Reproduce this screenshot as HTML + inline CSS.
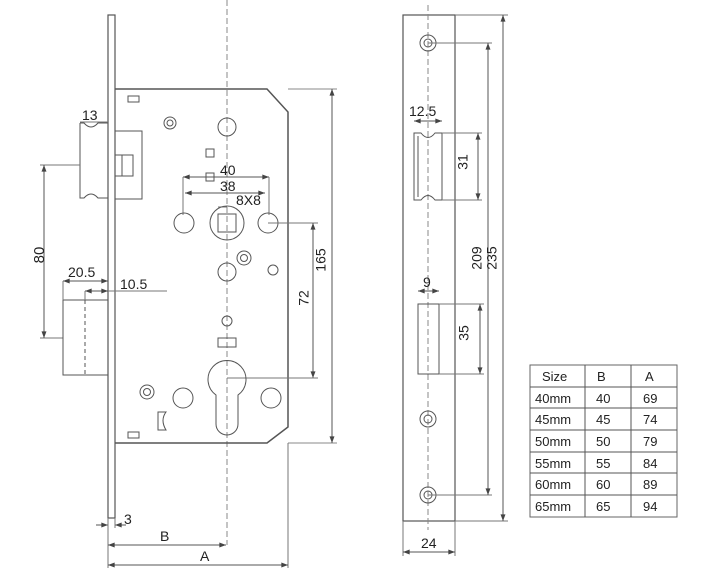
<!DOCTYPE html>
<html><head><meta charset="utf-8"><style>
html,body{margin:0;padding:0;background:#fff;}
svg{display:block;}
text{font-family:"Liberation Sans",Arial,sans-serif;fill:#222;}
</style></head><body>
<svg width="717" height="581" viewBox="0 0 717 581" xmlns="http://www.w3.org/2000/svg">
<defs>
<marker id="ar" viewBox="0 0 8 6" refX="8" refY="3" markerWidth="7" markerHeight="5" orient="auto-start-reverse"><path d="M0,0 L8,3 L0,6 z" fill="#444"/></marker>
</defs>
<g stroke="#555" stroke-width="1" fill="none">
<line x1="227" y1="0" x2="227" y2="545" stroke-dasharray="6,3" stroke="#888"/>
<rect x="108" y="15" width="7" height="503" stroke-width="1.2"/>
<path d="M115,89 L267,89 L288,112 L288,427 L267,443 L115,443" stroke-width="1.5"/>
<line x1="288" y1="89" x2="337" y2="89" stroke="#888"/>
<line x1="288" y1="443" x2="337" y2="443" stroke="#888"/>
<line x1="332" y1="89" x2="332" y2="443" marker-start="url(#ar)" marker-end="url(#ar)"/>
<rect x="128" y="96" width="11" height="6"/>
<rect x="128" y="432" width="11" height="6"/>
<path d="M80,123 L84,123 Q91,131 98,123 L108,123 M80,123 L80,198 L84,198 Q91,190 98,198 L108,198"/>
<rect x="115" y="131" width="27" height="68"/>
<rect x="115" y="155" width="18" height="21"/>
<line x1="122" y1="155" x2="122" y2="176"/>
<line x1="80" y1="122" x2="108" y2="122" stroke="#777"/>
<text x="82" y="120" font-size="14" stroke="none">13</text>
<line x1="40" y1="165" x2="80" y2="165" stroke="#777"/>
<line x1="40" y1="338" x2="63" y2="338" stroke="#777"/>
<line x1="44" y1="165" x2="44" y2="338" marker-start="url(#ar)" marker-end="url(#ar)"/>
<rect x="63" y="300" width="45" height="75"/>
<line x1="85" y1="300" x2="85" y2="375" stroke-dasharray="4,3"/>
<line x1="63" y1="281" x2="108" y2="281" marker-start="url(#ar)" marker-end="url(#ar)"/>
<line x1="63" y1="281" x2="63" y2="300" stroke="#777"/>
<line x1="85" y1="291" x2="108" y2="291" marker-start="url(#ar)" marker-end="url(#ar)"/>
<line x1="108" y1="291" x2="167" y2="291" stroke="#777"/>
<line x1="85" y1="291" x2="85" y2="300" stroke="#777"/>
<circle cx="227" cy="127" r="9"/>
<circle cx="170" cy="123" r="6"/><circle cx="170" cy="123" r="3"/>
<rect x="206" y="149" width="8" height="8"/>
<rect x="206" y="173" width="8" height="8"/>
<line x1="183" y1="177" x2="269" y2="177" marker-start="url(#ar)" marker-end="url(#ar)"/>
<line x1="185" y1="193" x2="265" y2="193" marker-start="url(#ar)" marker-end="url(#ar)"/>
<line x1="183" y1="177" x2="183" y2="215" stroke="#777"/>
<line x1="269" y1="177" x2="269" y2="215" stroke="#777"/>
<line x1="218" y1="207" x2="227" y2="207" stroke="#777"/>
<circle cx="227" cy="223" r="17"/>
<rect x="218" y="214" width="18" height="18"/>
<ellipse cx="184" cy="223" rx="10" ry="10"/>
<ellipse cx="268" cy="223" rx="10" ry="10"/>
<line x1="268" y1="223" x2="318" y2="223" stroke="#777"/>
<line x1="313" y1="223" x2="313" y2="378" marker-start="url(#ar)" marker-end="url(#ar)"/>
<line x1="227" y1="378" x2="318" y2="378" stroke="#777"/>
<circle cx="244" cy="258" r="7"/><circle cx="244" cy="258" r="3.5"/>
<circle cx="227" cy="272" r="9"/>
<circle cx="273" cy="270" r="5"/>
<circle cx="227" cy="321" r="5"/>
<rect x="218" y="338" width="18" height="9"/>
<path d="M216,395 A19,19 0 1 1 238,395 L238,424 A11,11 0 0 1 216,424 Z"/>
<circle cx="183" cy="398" r="10"/>
<circle cx="271" cy="398" r="10"/>
<circle cx="147" cy="392" r="7"/><circle cx="147" cy="392" r="3.5"/>
<path d="M158,412 L166,412 Q160,420 166,430 L158,430 Z"/>
<line x1="96" y1="525" x2="108" y2="525" marker-end="url(#ar)"/>
<line x1="126" y1="525" x2="115" y2="525" marker-end="url(#ar)"/>
<line x1="108" y1="518" x2="108" y2="568" stroke="#777"/>
<line x1="115" y1="518" x2="115" y2="528" stroke="#777"/>
<line x1="108" y1="545" x2="226" y2="545" marker-start="url(#ar)" marker-end="url(#ar)"/>
<line x1="288" y1="443" x2="288" y2="568" stroke="#777"/>
<line x1="108" y1="565" x2="288" y2="565" marker-start="url(#ar)" marker-end="url(#ar)"/>
<!-- strike plate -->
<rect x="403" y="15" width="52" height="506" stroke-width="1.2"/>
<line x1="428" y1="5" x2="428" y2="530" stroke-dasharray="6,3" stroke="#888"/>
<circle cx="428" cy="43" r="8"/><circle cx="428" cy="43" r="4"/>
<circle cx="428" cy="419" r="8"/><circle cx="428" cy="419" r="4"/>
<circle cx="428" cy="495" r="8"/><circle cx="428" cy="495" r="4"/>
<path d="M414,133 L421,133 Q428,142 435,133 L442,133 L442,200 L435,200 Q428,191 421,200 L414,200 Z"/>
<line x1="418" y1="136" x2="418" y2="197"/>
<line x1="414" y1="121" x2="442" y2="121" marker-start="url(#ar)" marker-end="url(#ar)"/>
<line x1="442" y1="133" x2="482" y2="133" stroke="#777"/>
<line x1="442" y1="200" x2="482" y2="200" stroke="#777"/>
<line x1="478" y1="133" x2="478" y2="200" marker-start="url(#ar)" marker-end="url(#ar)"/>
<rect x="418" y="304" width="21" height="70"/>
<line x1="418" y1="291" x2="439" y2="291" marker-start="url(#ar)" marker-end="url(#ar)"/>
<line x1="439" y1="304" x2="484" y2="304" stroke="#777"/>
<line x1="439" y1="374" x2="484" y2="374" stroke="#777"/>
<line x1="480" y1="304" x2="480" y2="374" marker-start="url(#ar)" marker-end="url(#ar)"/>
<line x1="428" y1="43" x2="492" y2="43" stroke="#777"/>
<line x1="428" y1="495" x2="492" y2="495" stroke="#777"/>
<line x1="488" y1="43" x2="488" y2="495" marker-start="url(#ar)" marker-end="url(#ar)"/>
<line x1="455" y1="15" x2="508" y2="15" stroke="#777"/>
<line x1="455" y1="521" x2="508" y2="521" stroke="#777"/>
<line x1="503" y1="15" x2="503" y2="521" marker-start="url(#ar)" marker-end="url(#ar)"/>
<line x1="403" y1="521" x2="403" y2="556" stroke="#777"/>
<line x1="455" y1="521" x2="455" y2="556" stroke="#777"/>
<line x1="403" y1="552" x2="455" y2="552" marker-start="url(#ar)" marker-end="url(#ar)"/>
<rect x="530" y="365" width="147" height="152" stroke="#666"/>
<line x1="585" y1="365" x2="585" y2="517"/>
<line x1="631" y1="365" x2="631" y2="517"/>
<line x1="530" y1="387" x2="677" y2="387"/>
<line x1="530" y1="408" x2="677" y2="408"/>
<line x1="530" y1="430" x2="677" y2="430"/>
<line x1="530" y1="452" x2="677" y2="452"/>
<line x1="530" y1="473" x2="677" y2="473"/>
<line x1="530" y1="495" x2="677" y2="495"/>
</g>
<g font-size="14">
<text x="40" y="255" transform="rotate(-90 40 255)" text-anchor="middle" dominant-baseline="middle" font-size="15">80</text>
<text x="68" y="277">20.5</text>
<text x="120" y="289">10.5</text>
<text x="220" y="175">40</text>
<text x="220" y="191">38</text>
<text x="236" y="205">8X8</text>
<text x="322" y="260" transform="rotate(-90 322 260)" text-anchor="middle" dominant-baseline="middle">165</text>
<text x="305" y="298" transform="rotate(-90 305 298)" text-anchor="middle" dominant-baseline="middle">72</text>
<text x="124" y="524">3</text>
<text x="160" y="541">B</text>
<text x="200" y="561">A</text>
<text x="409" y="116">12.5</text>
<text x="423" y="287">9</text>
<text x="464" y="162" transform="rotate(-90 464 162)" text-anchor="middle" dominant-baseline="middle">31</text>
<text x="465" y="333" transform="rotate(-90 465 333)" text-anchor="middle" dominant-baseline="middle">35</text>
<text x="478" y="258" transform="rotate(-90 478 258)" text-anchor="middle" dominant-baseline="middle">209</text>
<text x="493" y="258" transform="rotate(-90 493 258)" text-anchor="middle" dominant-baseline="middle">235</text>
<text x="421" y="548">24</text>
</g>
<g font-size="13">
<text x="542" y="381">Size</text><text x="597" y="381">B</text><text x="645" y="381">A</text>
<text x="535" y="403">40mm</text><text x="596" y="403">40</text><text x="643" y="403">69</text>
<text x="535" y="424">45mm</text><text x="596" y="424">45</text><text x="643" y="424">74</text>
<text x="535" y="446">50mm</text><text x="596" y="446">50</text><text x="643" y="446">79</text>
<text x="535" y="468">55mm</text><text x="596" y="468">55</text><text x="643" y="468">84</text>
<text x="535" y="489">60mm</text><text x="596" y="489">60</text><text x="643" y="489">89</text>
<text x="535" y="511">65mm</text><text x="596" y="511">65</text><text x="643" y="511">94</text>
</g>
</svg>
</body></html>
